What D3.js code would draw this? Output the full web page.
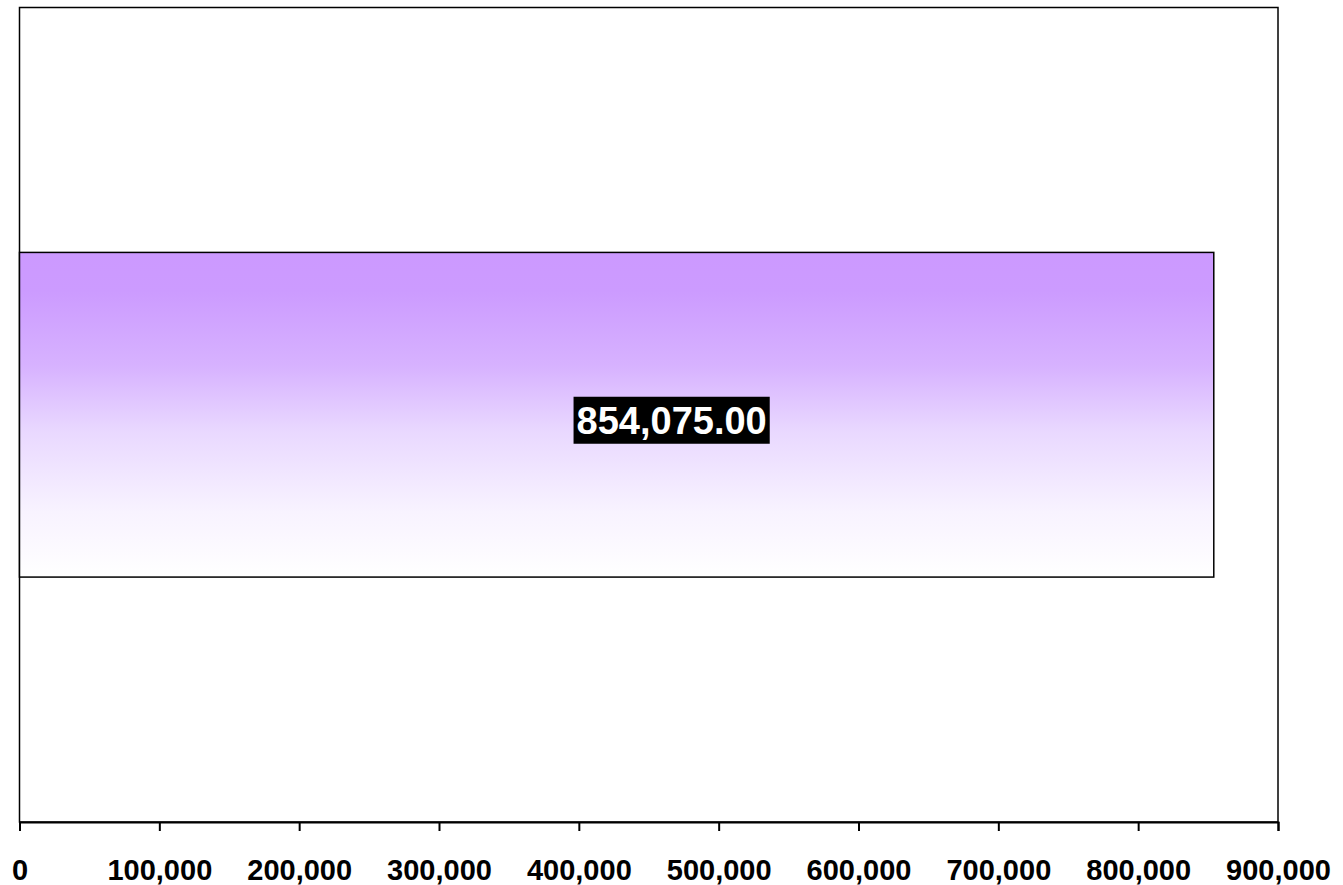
<!DOCTYPE html>
<html><head><meta charset="utf-8">
<script src="https://cdn.jsdelivr.net/npm/d3@7"></script>
<style>html,body{margin:0;padding:0;background:#fff;}svg{display:block;}</style>
</head><body>
<script>
const categories = ["Total"];
const values = [854075];
const tickValues = [0,100000,200000,300000,400000,500000,600000,700000,800000,900000];

const W = 1343, H = 885;
const m = {left:19.5, right:65, top:7.5, bottom:63};
const svg = d3.select("body").append("svg").attr("width",W).attr("height",H);

const x = d3.scaleLinear().domain([0,900000]).range([m.left, W-m.right]);
const y = d3.scaleBand().domain(categories).range([m.top, H-m.bottom]).paddingInner(0.43).paddingOuter(0.43);

const defs = svg.append("defs");
const g = defs.append("linearGradient").attr("id","grad").attr("x1",0).attr("y1",0).attr("x2",0).attr("y2",1);
[[0,"#cc99ff"],[0.12,"#cc9bff"],[0.35,"#d7b2ff"],[0.55,"#e9d8ff"],[0.8,"#f8f3ff"],[1,"#ffffff"]].forEach(([o,c])=>g.append("stop").attr("offset",o).attr("stop-color",c));

// plot frame
svg.append("rect").attr("x",x(0)).attr("y",m.top).attr("width",x(900000)-x(0)).attr("height",H-m.bottom-m.top)
  .attr("fill","none").attr("stroke","#000").attr("stroke-width",1.5);

svg.selectAll("rect.bar").data(values).enter().append("rect").attr("class","bar")
  .attr("x",x(0)).attr("y",(d,i)=>y(categories[i])).attr("width",d=>x(d)-x(0)).attr("height",y.bandwidth())
  .attr("fill","url(#grad)").attr("stroke","#000").attr("stroke-width",1.5);

// axis
const ax = svg.append("g").attr("transform",`translate(0,${H-m.bottom})`)
  .call(d3.axisBottom(x).tickValues(tickValues).tickSize(9).tickPadding(28).tickFormat(d3.format(",")));
ax.select(".domain").attr("stroke","#000").attr("stroke-width",2);
ax.selectAll(".tick line").attr("stroke","#000").attr("stroke-width",2);
ax.selectAll(".tick text").attr("fill","#000").attr("font-family","Liberation Sans, Arial, sans-serif")
  .attr("font-weight","bold").attr("font-size",29);

// label
values.forEach((v,i)=>{
  const cx = x(v/2)+55, cy = y(categories[i])+y.bandwidth()/2+6;
  const lg = svg.append("g");
  const t = lg.append("text").attr("x",cx).attr("y",cy).attr("text-anchor","middle").attr("dominant-baseline","central")
    .attr("font-family","Liberation Sans, Arial, sans-serif").attr("font-weight","bold").attr("font-size",38)
    .attr("fill","#fff").text(d3.format(",.2f")(v));
  const bb = t.node().getBBox();
  lg.insert("rect","text").attr("x",bb.x-3).attr("y",cy-24).attr("width",bb.width+6).attr("height",47).attr("fill","#000");
});
</script>
</body></html>
